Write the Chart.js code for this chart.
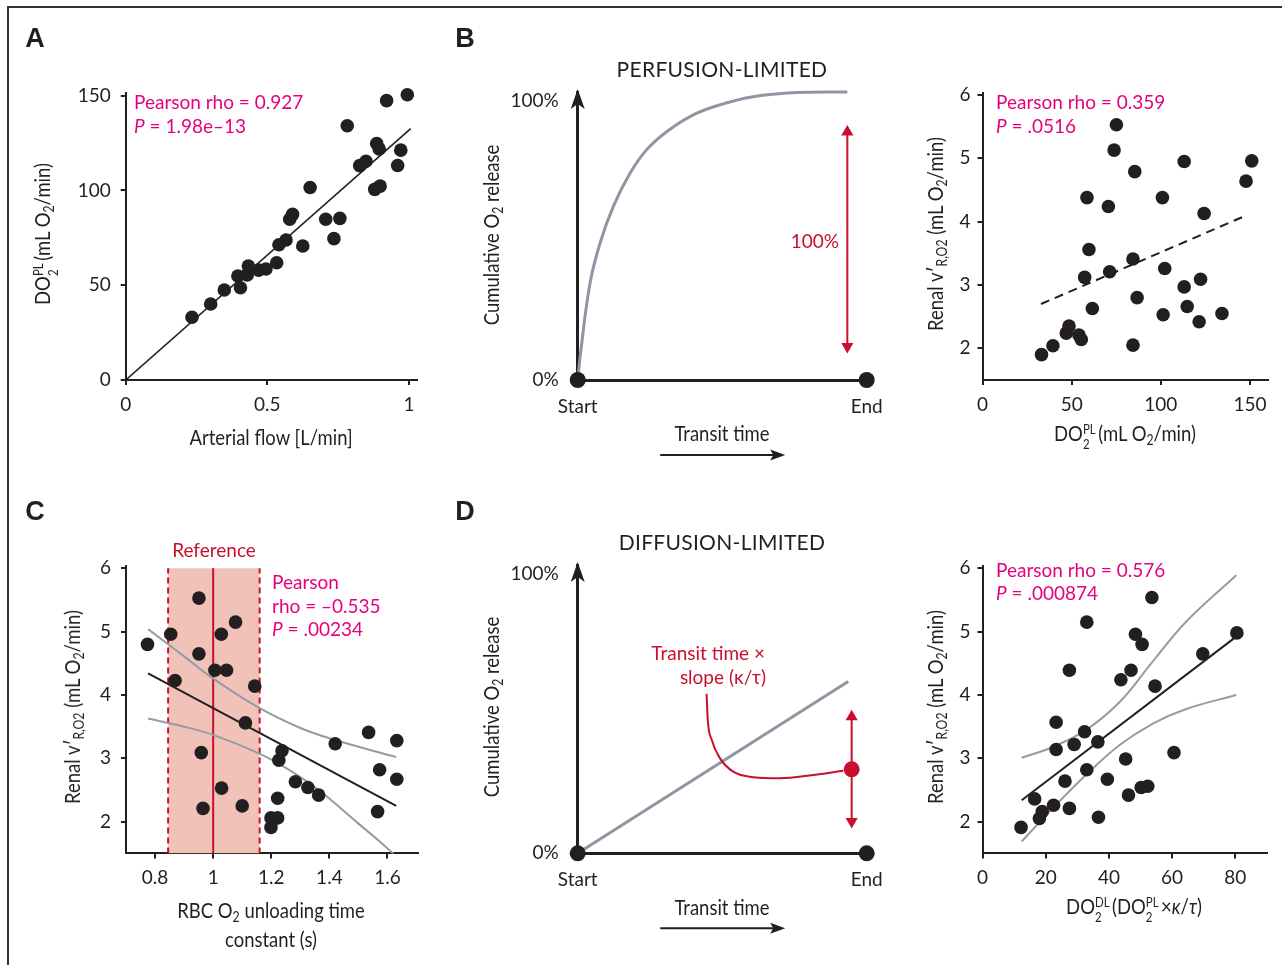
<!DOCTYPE html>
<html>
<head>
<meta charset="utf-8">
<script src="https://cdn.jsdelivr.net/npm/chart.js@4.4.0/dist/chart.umd.min.js"></script>
<style>
  html, body { margin: 0; padding: 0; background: #fff; }
  #fig { position: relative; width: 1282px; height: 965px; overflow: hidden; font-family: Lato, 'Open Sans', sans-serif; color: #231f20; }
  #frame { position: absolute; left: 7px; top: 6px; width: 1290px; height: 980px; border-left: 2px solid #333; border-top: 2px solid #333; }
  canvas.layer { position: absolute; left: 0; top: 0; }
  .t { position: absolute; white-space: nowrap; line-height: 1; font-size: 19px; }
  .l { transform: translate(0, -50%); }
  .c { transform: translate(-50%, -50%); }
  .r { transform: translate(-100%, -50%); }
  .ax { position: absolute; white-space: nowrap; line-height: 1; font-size: 22px; transform: translate(-50%, -50%) scaleX(0.84); }
  .rot { transform: translate(-50%, -50%) rotate(-90deg) scaleX(0.84); }
  .letter { position: absolute; font-family: 'Liberation Sans', Arial, sans-serif; font-weight: bold; font-size: 27px; transform: translate(-50%, -50%); }
  .pink { color: #e6007e; }
  .red { color: #c8102e; }
  .title { font-size: 21px; letter-spacing: 0.3px; }
  sub { font-size: 0.66em; vertical-align: -0.3em; line-height: 0; }
  .ss { display: inline-flex; flex-direction: column; font-size: 0.62em; line-height: 1.1; vertical-align: 0.5em; margin-right: 3px; }
</style>
</head>
<body>
<div id="fig">
  <div id="frame"></div>
  <canvas class="layer" id="chartA" width="1282" height="965"></canvas>
  <canvas class="layer" id="chartB1" width="1282" height="965"></canvas>
  <canvas class="layer" id="chartB2" width="1282" height="965"></canvas>
  <canvas class="layer" id="chartC" width="1282" height="965"></canvas>
  <canvas class="layer" id="chartD1" width="1282" height="965"></canvas>
  <canvas class="layer" id="chartD2" width="1282" height="965"></canvas>

  <!-- panel letters -->
  <div class="letter" style="left:35px;top:38px">A</div>
  <div class="letter" style="left:465px;top:38px">B</div>
  <div class="letter" style="left:35px;top:511px">C</div>
  <div class="letter" style="left:465px;top:511px">D</div>

  <!-- A -->
  <div class="t l pink" style="left:134px;top:101px">Pearson rho = 0.927</div>
  <div class="t l pink" style="left:134px;top:125px"><i>P</i> = 1.98e–13</div>
  <div class="ax rot" style="left:46px;top:234px">DO<span class="ss"><span>PL</span><span>2</span></span>(mL O<sub>2</sub>/min)</div>
  <div class="ax" style="left:271px;top:437px">Arterial flow [L/min]</div>

  <!-- B -->
  <div class="t c title" style="left:722px;top:68px">PERFUSION-LIMITED</div>
  <div class="ax rot" style="left:491px;top:235px">Cumulative O<sub>2</sub> release</div>
  <div class="t r red" style="left:839px;top:240px">100%</div>
  <div class="ax" style="left:722px;top:433px">Transit time</div>
  <div class="t l pink" style="left:996px;top:101px">Pearson rho = 0.359</div>
  <div class="t l pink" style="left:996px;top:125px"><i>P</i> = .0516</div>
  <div class="ax rot" style="left:935px;top:234px">Renal v′<sub>R,O2</sub> (mL O<sub>2</sub>/min)</div>
  <div class="ax" style="left:1125px;top:437px">DO<span class="ss"><span>PL</span><span>2</span></span>(mL O<sub>2</sub>/min)</div>

  <!-- C -->
  <div class="t c red" style="left:214px;top:549px">Reference</div>
  <div class="t l pink" style="left:272px;top:581px">Pearson</div>
  <div class="t l pink" style="left:272px;top:605px">rho = –0.535</div>
  <div class="t l pink" style="left:272px;top:628px"><i>P</i> = .00234</div>
  <div class="ax rot" style="left:72px;top:707px">Renal v′<sub>R,O2</sub> (mL O<sub>2</sub>/min)</div>
  <div class="ax" style="left:271px;top:910px">RBC O<sub>2</sub> unloading time</div>
  <div class="ax" style="left:271px;top:939px">constant (s)</div>

  <!-- D -->
  <div class="t c title" style="left:722px;top:541px">DIFFUSION-LIMITED</div>
  <div class="ax rot" style="left:491px;top:707px">Cumulative O<sub>2</sub> release</div>
  <div class="t r red" style="left:765px;top:652px">Transit time ×</div>
  <div class="t r red" style="left:766px;top:676px">slope (κ/τ)</div>
  <div class="ax" style="left:722px;top:907px">Transit time</div>
  <div class="t l pink" style="left:996px;top:569px">Pearson rho = 0.576</div>
  <div class="t l pink" style="left:996px;top:592px"><i>P</i> = .000874</div>
  <div class="ax rot" style="left:935px;top:707px">Renal v′<sub>R,O2</sub> (mL O<sub>2</sub>/min)</div>
  <div class="ax" style="left:1134px;top:910px">DO<span class="ss"><span>DL</span><span>2</span></span>(DO<span class="ss"><span>PL</span><span>2</span></span>×<i>κ</i>/<i>τ</i>)</div>
</div>

<script>
'use strict';

// DATA

// panel A: arterial flow vs DO2 PL
let flowA = [0.234, 0.300, 0.348, 0.396, 0.405, 0.429, 0.433, 0.469, 0.495, 0.533, 0.541, 0.566, 0.579, 0.589, 0.625, 0.651, 0.706, 0.735, 0.756, 0.782, 0.826, 0.848, 0.879, 0.898, 0.886, 0.895, 0.921, 0.960, 0.971, 0.994];
let do2A = [33.1, 40.1, 47.5, 54.9, 48.7, 55.4, 60.1, 58.0, 58.6, 61.9, 71.4, 73.9, 84.8, 87.4, 70.7, 101.6, 84.8, 74.6, 85.3, 134.2, 113.1, 115.4, 100.6, 102.3, 124.8, 121.9, 147.4, 113.2, 121.3, 150.5];
let fitAx = [0, 1.006];
let fitAy = [0, 132.6];
let xTicksA = [0, 0.5, 1];
let yTicksA = [0, 50, 100, 150];

// panel B right: DO2 PL vs renal vO2
let do2B = [33.1, 39.5, 47.0, 48.5, 54.1, 55.4, 57.3, 59.7, 58.6, 61.6, 70.6, 71.3, 73.8, 75.1, 84.4, 84.4, 85.4, 86.7, 100.9, 102.2, 101.3, 113.1, 113.1, 114.8, 121.5, 122.3, 124.3, 134.3, 147.8, 151.0];
let vB = [1.90, 2.04, 2.24, 2.35, 2.21, 2.14, 3.12, 3.56, 4.38, 2.63, 4.24, 3.21, 5.13, 5.53, 3.41, 2.05, 4.79, 2.80, 4.38, 3.26, 2.53, 4.95, 2.97, 2.66, 2.42, 3.09, 4.13, 2.55, 4.64, 4.96];
let fitBx = [32.8, 147.2];
let fitBy = [2.70, 4.09];
let xTicksB = [0, 50, 100, 150];
let yTicksV = [2, 3, 4, 5, 6];

// panel C: RBC unloading time constant vs renal vO2
let tauC = [0.774, 0.854, 0.869, 0.951, 0.951, 0.959, 0.965, 1.006, 1.028, 1.029, 1.046, 1.077, 1.100, 1.111, 1.143, 1.199, 1.199, 1.222, 1.222, 1.226, 1.237, 1.283, 1.326, 1.363, 1.420, 1.535, 1.566, 1.573, 1.632, 1.632];
let vC = [4.80, 4.96, 4.23, 5.53, 4.65, 3.09, 2.21, 4.39, 4.96, 2.53, 4.39, 5.15, 2.25, 3.56, 4.14, 1.91, 2.06, 2.06, 2.37, 2.97, 3.12, 2.63, 2.54, 2.42, 3.23, 3.41, 2.16, 2.82, 3.28, 2.67];
let fitCx = [0.776, 1.630];
let fitCy = [4.34, 2.25];
let upperCx = [0.776, 0.9, 1.0, 1.157, 1.3, 1.42, 1.63];
let upperCy = [5.04, 4.61, 4.26, 3.80, 3.48, 3.29, 3.02];
let lowerCx = [0.776, 0.9, 1.0, 1.157, 1.25, 1.363, 1.5, 1.575, 1.65];
let lowerCy = [3.63, 3.50, 3.37, 3.08, 2.85, 2.50, 1.97, 1.68, 1.37];
let refLow = 0.845;
let refMid = 1.0;
let refHigh = 1.16;
let xTicksC = [0.8, 1, 1.2, 1.4, 1.6];
let xLabelsC = ['0.8', '1', '1.2', '1.4', '1.6'];

// panel D right: DO2 DL vs renal vO2
let dlD = [12.2, 16.5, 18.0, 18.9, 22.5, 23.3, 23.3, 26.1, 27.5, 27.5, 29.0, 32.3, 33.0, 33.0, 36.5, 36.7, 39.5, 43.8, 45.3, 46.2, 47.0, 48.4, 50.2, 50.5, 52.3, 53.6, 54.6, 60.6, 69.7, 80.5];
let vD = [1.91, 2.36, 2.05, 2.16, 2.26, 3.57, 3.14, 2.64, 4.39, 2.21, 3.22, 3.42, 5.15, 2.82, 3.26, 2.07, 2.67, 4.24, 2.99, 2.42, 4.39, 4.96, 2.54, 4.80, 2.56, 5.54, 4.14, 3.09, 4.65, 4.98];
let fitDx = [12.4, 80.5];
let fitDy = [2.34, 4.93];
let ciDx = [12.4, 22.2, 32.8, 43.4, 53.9, 64.5, 80.3];
let upperDy = [3.01, 3.18, 3.45, 3.89, 4.53, 5.16, 5.89];
let lowerDy = [1.69, 2.21, 2.74, 3.21, 3.55, 3.78, 4.00];
let xTicksD = [0, 20, 40, 60, 80];

// schematics (B left, D left)
let schemXTicks = [0, 1];
let schemXLabels = ['Start', 'End'];
let schemYTicks = [0, 100];
let schemYLabels = ['0%', '100%'];
let endsX = [0, 1];
let endsY = [0, 0];
let perfX = [0, 0.011, 0.0426, 0.0772, 0.123, 0.181, 0.238, 0.308, 0.400, 0.492, 0.607, 0.757, 0.933];
let perfY = [0, 10.7, 34.6, 48.9, 62.0, 73.9, 82.3, 88.8, 94.8, 98.4, 101.3, 102.8, 103.0];
let perfArrowX = [0.933, 0.933];
let perfArrowY = [12.0, 88.7];
let diffX = [0, 0.936];
let diffY = [0, 61.4];
let noteX = [0.446, 0.450, 0.464, 0.492, 0.538, 0.608, 0.700, 0.815, 0.919];
let noteY = [57.0, 47.7, 40.5, 34.0, 29.2, 27.2, 26.8, 28.0, 29.5];
let diffDotX = [0.948];
let diffDotY = [30.0];
let diffArrowX = [0.948, 0.948];
let diffArrowY = [11.4, 48.8];


// STYLE
const W = 1282;
const H = 965;
const YW = 100;
const XH = 40;
const INK = '#231f20';
const RED = '#c8102e';
const GREY = '#959ba6';
const BAND = '#f1c3b8';
const TICKFONT = {family: 'Lato', size: 19};


// UTILITIES
function pts(xs, ys) {
  return xs.map((x, i) => ({x: x, y: ys[i]}));
}

// linear axis with ticks taken from an array
function axis(min, max, tickVals, pad, labels, schematic) {
  return {
    type: 'linear',
    min: min,
    max: max,
    border: {display: true, color: INK, width: schematic ? 3 : 2},
    grid: {display: !schematic, drawOnChartArea: false, drawTicks: true, tickLength: 5, color: INK, lineWidth: 2},
    afterBuildTicks: function (s) {
      s.ticks = tickVals.map(v => ({value: v}));
    },
    ticks: {
      padding: pad,
      color: INK,
      font: TICKFONT,
      autoSkip: false,
      maxRotation: 0,
      callback: function (value, index) {
        return labels ? labels[index] : String(value);
      }
    }
  };
}

function dots(xs, ys, color, r) {
  return {type: 'scatter', data: pts(xs, ys), pointRadius: r || 6.8, pointBackgroundColor: color || INK, pointBorderWidth: 0, clip: false, order: 0};
}

function line(xs, ys, color, width, extra) {
  return Object.assign({type: 'line', data: pts(xs, ys), borderColor: color, borderWidth: width, pointRadius: 0, order: 1}, extra || {});
}

// double headed arrow: line plus triangle heads
function arrow(xs, ys) {
  return {type: 'line', data: pts(xs, ys), borderColor: RED, borderWidth: 2, pointStyle: 'triangle', pointRadius: 7,
    pointRotation: [180, 0], pointBackgroundColor: RED, pointBorderWidth: 0, clip: false, order: 0};
}

// axis arrowhead on schematic y axis + "transit time" arrow
const schemArrows = {
  id: 'schemArrows',
  afterDraw(chart) {
    const ctx = chart.ctx;
    const a = chart.chartArea;
    const x = a.left;
    const y = a.top;
    ctx.save();
    ctx.fillStyle = INK;
    ctx.beginPath();
    ctx.moveTo(x, y - 3);
    ctx.lineTo(x + 7, y + 17);
    ctx.lineTo(x, y + 12);
    ctx.lineTo(x - 7, y + 17);
    ctx.closePath();
    ctx.fill();

    const cx = (a.left + a.right) / 2;
    const ay = a.bottom + 75;
    ctx.strokeStyle = INK;
    ctx.lineWidth = 2;
    ctx.beginPath();
    ctx.moveTo(cx - 62, ay);
    ctx.lineTo(cx + 55, ay);
    ctx.stroke();
    ctx.beginPath();
    ctx.moveTo(cx + 63, ay);
    ctx.lineTo(cx + 48, ay - 5.5);
    ctx.lineTo(cx + 51, ay);
    ctx.lineTo(cx + 48, ay + 5.5);
    ctx.closePath();
    ctx.fill();
    ctx.restore();
  }
};

// builds a chart whose plot area sits exactly on area
function makeChart(id, area, xScale, yScale, datasets, plugins) {
  xScale.afterFit = function (s) { s.height = XH; s.paddingLeft = 0; s.paddingRight = 0; };
  yScale.afterFit = function (s) { s.width = YW; s.paddingTop = 0; s.paddingBottom = 0; };
  return new Chart(document.getElementById(id), {
    type: 'scatter',
    data: {datasets: datasets},
    options: {
      responsive: false,
      animation: false,
      events: [],
      layout: {
        autoPadding: false,
        padding: {left: area.left - YW, top: area.top, right: W - area.right, bottom: H - area.bottom - XH}
      },
      plugins: {legend: {display: false}, tooltip: {enabled: false}},
      scales: {x: xScale, y: yScale}
    },
    plugins: plugins || []
  });
}


// PANEL A
makeChart('chartA', {left: 125.7, right: 417.5, top: 92.9, bottom: 380},
  axis(0, 1.03, xTicksA, 8),
  axis(0, 151.5, yTicksA, 10),
  [
    dots(flowA, do2A),
    line(fitAx, fitAy, INK, 1.6)
  ]);

// PANEL B LEFT (schematic, perfusion limited)
makeChart('chartB1', {left: 577.7, right: 866.7, top: 92, bottom: 380},
  axis(0, 1, schemXTicks, 10, schemXLabels, true),
  axis(0, 103, schemYTicks, 14, schemYLabels, true),
  [
    line(perfX, perfY, '#8f96a2', 3, {tension: 0.4, clip: false}),
    arrow(perfArrowX, perfArrowY),
    dots(endsX, endsY, INK, 8)
  ], [schemArrows]);

// PANEL B RIGHT
makeChart('chartB2', {left: 982.5, right: 1267.8, top: 93.1, bottom: 380},
  axis(0, 160, xTicksB, 8),
  axis(1.5, 6.03, yTicksV, 7),
  [
    dots(do2B, vB),
    line(fitBx, fitBy, INK, 2, {borderDash: [9, 6]})
  ]);

// PANEL C
makeChart('chartC', {left: 126, right: 418, top: 566.4, bottom: 853.4},
  axis(0.7, 1.705, xTicksC, 8, xLabelsC),
  axis(1.5, 6.03, yTicksV, 10),
  [
    line([refLow, refHigh], [6, 6], 'rgba(0,0,0,0)', 0, {fill: 'start', backgroundColor: BAND, order: 4}),
    line([refLow, refLow], [1.5, 6], RED, 2, {borderDash: [6, 4], order: 3}),
    line([refHigh, refHigh], [1.5, 6], RED, 2, {borderDash: [6, 4], order: 3}),
    line([refMid, refMid], [1.5, 6], RED, 2, {order: 3}),
    line(upperCx, upperCy, GREY, 2, {tension: 0.4, order: 2}),
    line(lowerCx, lowerCy, GREY, 2, {tension: 0.4, order: 2}),
    line(fitCx, fitCy, INK, 2),
    dots(tauC, vC)
  ]);

// PANEL D LEFT (schematic, diffusion limited)
makeChart('chartD1', {left: 577.7, right: 866.7, top: 565, bottom: 853.3},
  axis(0, 1, schemXTicks, 10, schemXLabels, true),
  axis(0, 103, schemYTicks, 14, schemYLabels, true),
  [
    line(diffX, diffY, '#8f96a2', 3, {clip: false, order: 2}),
    line(noteX, noteY, RED, 2, {cubicInterpolationMode: 'monotone', clip: false}),
    arrow(diffArrowX, diffArrowY),
    dots(diffDotX, diffDotY, RED, 8),
    dots(endsX, endsY, INK, 8)
  ], [schemArrows]);

// PANEL D RIGHT
makeChart('chartD2', {left: 982.5, right: 1266.9, top: 566.4, bottom: 853.4},
  axis(0, 90, xTicksD, 8),
  axis(1.5, 6.03, yTicksV, 7),
  [
    line(ciDx, upperDy, GREY, 2, {tension: 0.4, order: 2}),
    line(ciDx, lowerDy, GREY, 2, {tension: 0.4, order: 2}),
    line(fitDx, fitDy, INK, 2),
    dots(dlD, vD)
  ]);
</script>
</body>
</html>
